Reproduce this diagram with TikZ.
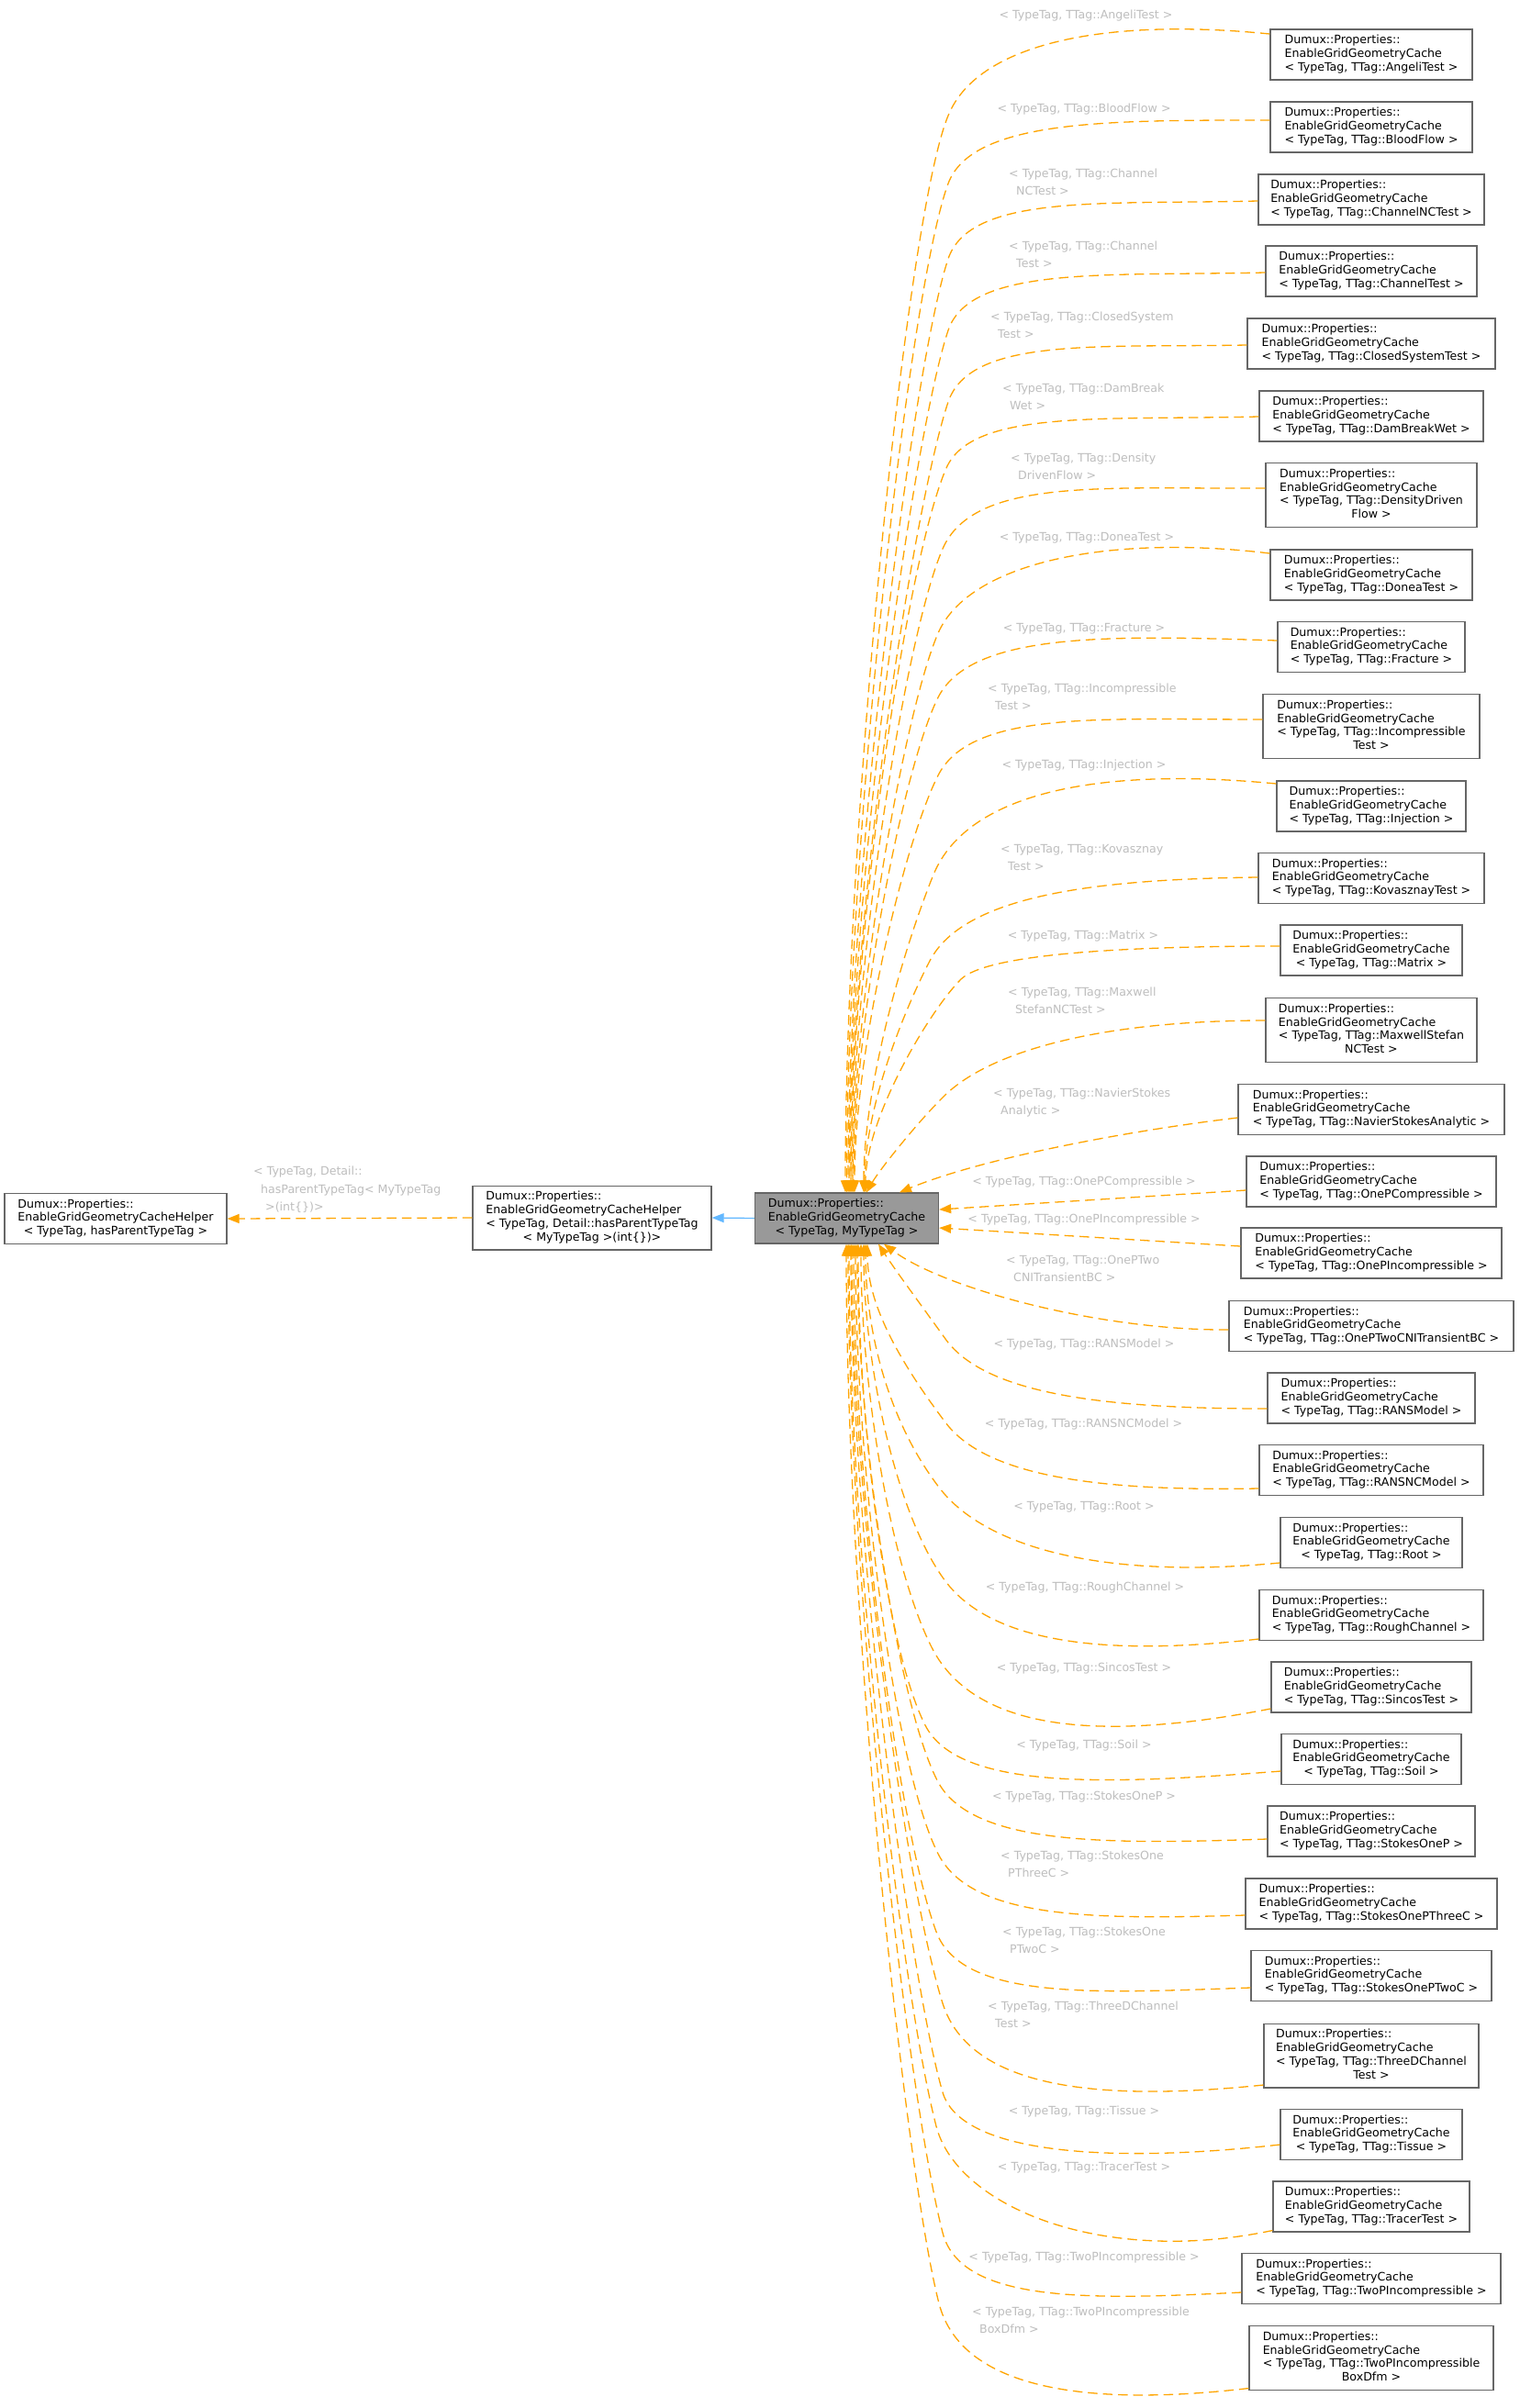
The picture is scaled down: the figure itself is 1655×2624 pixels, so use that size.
\documentclass[tikz,border=0pt]{standalone}
\usepackage{fontspec}
\setmainfont{DejaVu Sans}
\usetikzlibrary{arrows.meta}
\definecolor{edgeorange}{RGB}{255,165,0}
\definecolor{edgeblue}{RGB}{99,184,255}
\definecolor{lblgrey}{RGB}{190,190,190}
\definecolor{boxgrey}{RGB}{102,102,102}
\definecolor{mainfill}{RGB}{153,153,153}
\newcommand\nodefont{\fontsize{12.6pt}{14.7pt}\selectfont}
\newcommand\lblfont{\fontsize{12.6pt}{19.5pt}\selectfont}
\newcommand\threel[3]{\begin{tabular}{@{}l@{}}#1\\#2\\\multicolumn{1}{@{}c@{}}{#3}\end{tabular}}
\newcommand\fourl[4]{\begin{tabular}{@{}l@{}}#1\\#2\\#3\\\multicolumn{1}{@{}c@{}}{#4}\end{tabular}}
\newcommand\egc[1]{\threel{Dumux::Properties::}{EnableGridGeometryCache}{< TypeTag, TTag::#1 >}}
\newcommand\egcf[2]{\fourl{Dumux::Properties::}{EnableGridGeometryCache}{< TypeTag, TTag::#1}{#2 >}}
\newcommand\twol[2]{\begin{tabular}[t]{@{}l@{}}#1\\\hspace*{8pt}#2\end{tabular}}
\tikzset{
  cls/.style={draw=boxgrey, line width=1.3pt, fill=white, inner xsep=10pt, inner ysep=5.45pt, font=\nodefont, text=black},
  kid/.style={cls, minimum width=#1},
  inh/.style={draw=edgeorange, line width=1.3pt, dash pattern=on 10.5pt off 6pt, -{Triangle[length=13pt,width=10pt]}},
  lbl/.style={text=lblgrey, font=\lblfont, inner sep=0pt},
}
\begin{document}
\begin{tikzpicture}[x=1pt,y=-1pt]
\fill[white] (0,0) rectangle (1655,2624);
\useasboundingbox (0,0) rectangle (1655,2624);

% central nodes
\node[cls, fill=mainfill, minimum width=200pt] (main) at (922.5,1327.5) {\threel{Dumux::Properties::}{EnableGridGeometryCache}{< TypeTag, MyTypeTag >}};
\node[cls, minimum width=260pt] (helper) at (645,1327) {\fourl{Dumux::Properties::}{EnableGridGeometryCacheHelper}{< TypeTag, Detail::hasParentTypeTag}{< MyTypeTag >(int\{\})>}};
\node[cls, minimum width=242pt] (base) at (126,1328) {\threel{Dumux::Properties::}{EnableGridGeometryCacheHelper}{< TypeTag, hasParentTypeTag >}};

% children
\node[kid=220pt] (c1) at (1494,59.5) {\egc{AngeliTest}};
\node[kid=220pt] (c2) at (1494,138.5) {\egc{BloodFlow}};
\node[kid=246pt] (c3) at (1494,217.5) {\egc{ChannelNCTest}};
\node[kid=230pt] (c4) at (1494,295.5) {\egc{ChannelTest}};
\node[kid=270pt] (c5) at (1494,374.5) {\egc{ClosedSystemTest}};
\node[kid=244pt] (c6) at (1494,453.5) {\egc{DamBreakWet}};
\node[kid=230pt] (c7) at (1494,539.5) {\egcf{DensityDriven}{Flow}};
\node[kid=220pt] (c8) at (1494,626.5) {\egc{DoneaTest}};
\node[kid=204pt] (c9) at (1494,705) {\egc{Fracture}};
\node[kid=236pt] (c10) at (1494,791.5) {\egcf{Incompressible}{Test}};
\node[kid=206pt] (c11) at (1494,878.5) {\egc{Injection}};
\node[kid=246pt] (c12) at (1494,957) {\egc{KovasznayTest}};
\node[kid=198pt] (c13) at (1494,1035.5) {\egc{Matrix}};
\node[kid=230pt] (c14) at (1494,1122.5) {\egcf{MaxwellStefan}{NCTest}};
\node[kid=290pt] (c15) at (1494,1209) {\egc{NavierStokesAnalytic}};
\node[kid=272pt] (c16) at (1494,1287.5) {\egc{OnePCompressible}};
\node[kid=284pt] (c17) at (1494,1365.5) {\egc{OnePIncompressible}};
\node[kid=310pt] (c18) at (1494,1445) {\egc{OnePTwoCNITransientBC}};
\node[kid=226pt] (c19) at (1494,1523.5) {\egc{RANSModel}};
\node[kid=244pt] (c20) at (1494,1602) {\egc{RANSNCModel}};
\node[kid=198pt] (c21) at (1494,1681) {\egc{Root}};
\node[kid=244pt] (c22) at (1494,1760) {\egc{RoughChannel}};
\node[kid=218pt] (c23) at (1494,1838.5) {\egc{SincosTest}};
\node[kid=196pt] (c24) at (1494,1917) {\egc{Soil}};
\node[kid=226pt] (c25) at (1494,1995.5) {\egc{StokesOneP}};
\node[kid=274pt] (c26) at (1494,2074.5) {\egc{StokesOnePThreeC}};
\node[kid=262pt] (c27) at (1494,2153) {\egc{StokesOnePTwoC}};
\node[kid=234pt] (c28) at (1494,2240) {\egcf{ThreeDChannel}{Test}};
\node[kid=198pt] (c29) at (1494,2326) {\egc{Tissue}};
\node[kid=214pt] (c30) at (1494,2404.5) {\egc{TracerTest}};
\node[kid=282pt] (c31) at (1494,2483) {\egc{TwoPIncompressible}};
\node[kid=266pt] (c32) at (1494,2569.5) {\egcf{TwoPIncompressible}{BoxDfm}};

% central edges
\draw[draw=edgeblue, line width=1.3pt, -{Triangle[length=13pt,width=10pt]}] (main.west) -- (helper.east);
\draw[inh] (helper.west) -- (base.east);
\node[lbl, anchor=base west] (lb0) at (276,1280.5) {\begin{tabular}[t]{@{}l@{}}< TypeTag, Detail::\\\hspace*{8pt}hasParentTypeTag< MyTypeTag\\\hspace*{13pt}>(int\{\})>\end{tabular}};

% top edges
\draw[inh] ([yshift=22.5pt]c1.west) .. controls (1204,19) and (1065,47) .. (1033,126) .. controls (987,237) and (921,899) .. ([xshift=-1.5pt]main.north);
\draw[inh] ([yshift=7.5pt]c2.west) .. controls (1208,131) and (1059,130) .. (1033,200) .. controls (991,313) and (922.5,914) .. (main.north);
\draw[inh] ([yshift=-1.5pt]c3.west) .. controls (1202,223) and (1057,211) .. (1033,282) .. controls (995,396) and (924,943) .. ([xshift=1.5pt]main.north);
\draw[inh] ([yshift=-1.5pt]c4.west) .. controls (1206,301) and (1057,289) .. (1033,360) .. controls (995,474) and (925,970) .. ([xshift=2.5pt]main.north);
\draw[inh] ([yshift=-1.5pt]c5.west) .. controls (1196,379) and (1057,367) .. (1033,438) .. controls (995,552) and (926,998) .. ([xshift=3.5pt]main.north);
\draw[inh] ([yshift=-0.5pt]c6.west) .. controls (1201,458) and (1059,446) .. (1031,510) .. controls (987,611) and (927,1023) .. ([xshift=4.5pt]main.north);
\draw[inh] ([yshift=7.5pt]c7.west) .. controls (1203,533) and (1061,520) .. (1027,598) .. controls (987,690) and (928,1054) .. ([xshift=5.5pt]main.north);
\draw[inh] ([yshift=23.5pt]c8.west) .. controls (1210,582) and (1056,612) .. (1022,690) .. controls (986,773) and (929,1086) .. ([xshift=6.5pt]main.north);
\draw[inh] ([yshift=7pt]c9.west) .. controls (1207,692) and (1058,689) .. (1022,760) .. controls (984,836) and (930,1110) .. ([xshift=7.5pt]main.north);
\draw[inh] ([yshift=7.5pt]c10.west) .. controls (1199,784) and (1058,774) .. (1022,845) .. controls (986,916) and (931,1140) .. ([xshift=8.5pt]main.north);
\draw[inh] ([yshift=24.5pt]c11.west) .. controls (1204,836) and (1055,861) .. (1017,953) .. controls (987,1027) and (941,1178) .. ([xshift=18.5pt]main.north);
\draw[inh] ([yshift=1pt]c12.west) .. controls (1192,958) and (1050,976) .. (1013,1047) .. controls (981,1109) and (942,1211) .. ([xshift=19.5pt]main.north);
\draw[inh] ([yshift=4.5pt]c13.west) .. controls (1220,1031) and (1075,1040) .. (1047,1067) .. controls (1012,1102) and (943,1219) .. ([xshift=20.5pt]main.north);
\draw[inh] ([yshift=10.5pt]c14.west) .. controls (1200,1112) and (1080,1145) .. (1030,1193) .. controls (1001,1221) and (958,1275) .. ([xshift=21.5pt]main.north);
\draw[inh] ([yshift=-9pt]c15.west) .. controls (1230,1232) and (1070,1262) .. ([xshift=57.5pt]main.north);
% side edges
\draw[inh] ([yshift=-9.5pt]c16.west) -- ([yshift=9.5pt]main.east);
\draw[inh] ([yshift=7.5pt]c17.west) -- ([yshift=-10.5pt]main.east);
% bottom edges
\draw[inh] ([yshift=-4pt]c18.west) .. controls (1200,1450) and (1030,1405) .. ([xshift=40.5pt]main.south);
\draw[inh] ([yshift=-11.5pt]c19.west) .. controls (1205,1535) and (1073.5,1519.75) .. (1030,1459) .. controls (1006.8,1426.6) and (976,1385) .. ([xshift=34.5pt]main.south);
\draw[inh] ([yshift=-20pt]c20.west) .. controls (1201,1625) and (1075,1610) .. (1030,1550) .. controls (983.8,1488.4) and (945,1424.5) .. ([xshift=22.5pt]main.south);
\draw[inh] ([yshift=-22pt]c21.west) .. controls (1209.5,1721) and (1076,1689) .. (1024,1622) .. controls (967.3,1548.5) and (943,1449.75) .. ([xshift=20.5pt]main.south);
\draw[inh] ([yshift=-26pt]c22.west) .. controls (1206.5,1805) and (1081,1791) .. (1030,1723) .. controls (976,1651) and (941,1485) .. ([xshift=18.5pt]main.south);
\draw[inh] ([yshift=-23.5pt]c23.west) .. controls (1215,1895) and (1064.5,1893) .. (1015,1795) .. controls (970,1706) and (938,1510) .. ([xshift=15.5pt]main.south);
\draw[inh] ([yshift=-13pt]c24.west) .. controls (1204,1945) and (1044,1951) .. (1008,1880) .. controls (963,1791) and (935,1539) .. ([xshift=12.5pt]main.south);
\draw[inh] ([yshift=-8.5pt]c25.west) .. controls (1203,2010) and (1057,2011) .. (1021,1940) .. controls (976,1851) and (934,1560) .. ([xshift=11.5pt]main.south);
\draw[inh] ([yshift=-12.5pt]c26.west) .. controls (1189,2092) and (1058,2091) .. (1022,2020) .. controls (972.5,1922) and (932,1588) .. ([xshift=9.5pt]main.south);
\draw[inh] ([yshift=-13pt]c27.west) .. controls (1192,2172) and (1048,2180) .. (1020,2105) .. controls (978,1992) and (930,1618) .. ([xshift=7.5pt]main.south);
\draw[inh] ([yshift=-32pt]c28.west) .. controls (1202,2290) and (1057,2278) .. (1027,2183) .. controls (988,2059.5) and (928,1645) .. ([xshift=5.5pt]main.south);
\draw[inh] ([yshift=-11pt]c29.west) .. controls (1208,2358) and (1046.6,2347) .. (1027,2280) .. controls (990.6,2155) and (927,1679) .. ([xshift=4.5pt]main.south);
\draw[inh] ([yshift=-26pt]c30.west) .. controls (1200,2470) and (1042.5,2404) .. (1020,2317) .. controls (982.5,2171.5) and (925,1692) .. ([xshift=2.5pt]main.south);
\draw[inh] ([yshift=-15pt]c31.west) .. controls (1190,2506) and (1047,2510.6) .. (1027,2433) .. controls (989.5,2287.5) and (924,1733) .. ([xshift=1.5pt]main.south);
\draw[inh] ([yshift=-33pt]c32.west) .. controls (1193,2622) and (1048,2607) .. (1023,2510) .. controls (985.5,2364.5) and (922,1760) .. ([xshift=-0.5pt]main.south);

% edge labels
\node[lbl, anchor=base] (l1) at (1183,20) {< TypeTag, TTag::AngeliTest >};
\node[lbl, anchor=base] (l2) at (1181,122) {< TypeTag, TTag::BloodFlow >};
\node[lbl, anchor=base west] (l3) at (1099,193) {\twol{< TypeTag, TTag::Channel}{NCTest >}};
\node[lbl, anchor=base west] (l4) at (1099,272) {\twol{< TypeTag, TTag::Channel}{Test >}};
\node[lbl, anchor=base west] (l5) at (1079,349) {\twol{< TypeTag, TTag::ClosedSystem}{Test >}};
\node[lbl, anchor=base west] (l6) at (1092,427) {\twol{< TypeTag, TTag::DamBreak}{Wet >}};
\node[lbl, anchor=base west] (l7) at (1101,503) {\twol{< TypeTag, TTag::Density}{DrivenFlow >}};
\node[lbl, anchor=base] (l8) at (1184,589) {< TypeTag, TTag::DoneaTest >};
\node[lbl, anchor=base] (l9) at (1181,688) {< TypeTag, TTag::Fracture >};
\node[lbl, anchor=base west] (l10) at (1076,754) {\twol{< TypeTag, TTag::Incompressible}{Test >}};
\node[lbl, anchor=base] (l11) at (1181,837) {< TypeTag, TTag::Injection >};
\node[lbl, anchor=base west] (l12) at (1090,929) {\twol{< TypeTag, TTag::Kovasznay}{Test >}};
\node[lbl, anchor=base] (l13) at (1180,1023) {< TypeTag, TTag::Matrix >};
\node[lbl, anchor=base west] (l14) at (1098,1085) {\twol{< TypeTag, TTag::Maxwell}{StefanNCTest >}};
\node[lbl, anchor=base west] (l15) at (1082,1195) {\twol{< TypeTag, TTag::NavierStokes}{Analytic >}};
\node[lbl, anchor=base] (l16) at (1181,1291) {< TypeTag, TTag::OnePCompressible >};
\node[lbl, anchor=base] (l17) at (1181,1332) {< TypeTag, TTag::OnePIncompressible >};
\node[lbl, anchor=base west] (l18) at (1096,1377) {\twol{< TypeTag, TTag::OnePTwo}{CNITransientBC >}};
\node[lbl, anchor=base] (l19) at (1181,1468) {< TypeTag, TTag::RANSModel >};
\node[lbl, anchor=base] (l20) at (1180.5,1555) {< TypeTag, TTag::RANSNCModel >};
\node[lbl, anchor=base] (l21) at (1181,1645) {< TypeTag, TTag::Root >};
\node[lbl, anchor=base] (l22) at (1182,1733) {< TypeTag, TTag::RoughChannel >};
\node[lbl, anchor=base] (l23) at (1181,1821) {< TypeTag, TTag::SincosTest >};
\node[lbl, anchor=base] (l24) at (1181,1905) {< TypeTag, TTag::Soil >};
\node[lbl, anchor=base] (l25) at (1181,1961) {< TypeTag, TTag::StokesOneP >};
\node[lbl, anchor=base west] (l26) at (1090,2026) {\twol{< TypeTag, TTag::StokesOne}{PThreeC >}};
\node[lbl, anchor=base west] (l27) at (1092,2109) {\twol{< TypeTag, TTag::StokesOne}{PTwoC >}};
\node[lbl, anchor=base west] (l28) at (1076,2190) {\twol{< TypeTag, TTag::ThreeDChannel}{Test >}};
\node[lbl, anchor=base] (l29) at (1181,2304) {< TypeTag, TTag::Tissue >};
\node[lbl, anchor=base] (l30) at (1181,2365) {< TypeTag, TTag::TracerTest >};
\node[lbl, anchor=base] (l31) at (1181,2463) {< TypeTag, TTag::TwoPIncompressible >};
\node[lbl, anchor=base west] (l32) at (1059,2523) {\twol{< TypeTag, TTag::TwoPIncompressible}{BoxDfm >}};
\end{tikzpicture}
\end{document}
